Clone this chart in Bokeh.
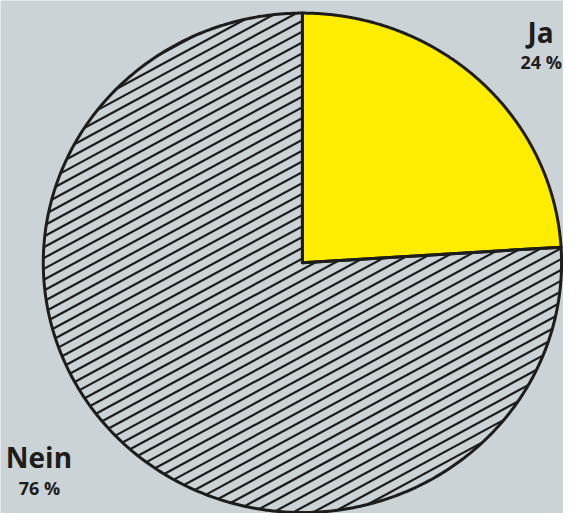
import numpy as np
from bokeh.plotting import figure
from bokeh.models import Range1d, ColumnDataSource
from bokeh.core.properties import value
from bokeh.embed import file_html
from bokeh.resources import INLINE

# ---- data ----
categories = ["Ja", "Nein"]
shares = [24, 76]
pct_labels = [f"{v} %" for v in shares]

# ---- layout / style ----
BG = "#cbd3d7"
INK = "#1d1d1b"
YELLOW = "#ffed00"
W, H = 579, 529
cx, cy = 310.5, 529 - 270.5
rx, ry = 266.5, 257.5

p = figure(width=563, height=513, output_backend="svg", toolbar_location=None,
           x_range=Range1d(0, W), y_range=Range1d(0, H), min_border=0)
p.axis.visible = False
p.grid.visible = False
p.outline_line_color = None
p.background_fill_color = BG
p.border_fill_color = BG

# slice polygons (clockwise from 12 o'clock)
total = float(sum(shares))
cum = np.cumsum([0] + shares) / total
polys_x, polys_y = [], []
for i in range(len(shares)):
    a0 = np.pi / 2 - 2 * np.pi * cum[i]
    a1 = np.pi / 2 - 2 * np.pi * cum[i + 1]
    t = np.linspace(a0, a1, 400)
    xs = np.concatenate([[cx], cx + rx * np.cos(t), [cx]])
    ys = np.concatenate([[cy], cy + ry * np.sin(t), [cy]])
    polys_x.append(xs.tolist())
    polys_y.append(ys.tolist())

# hatch lines clipped to the ellipse (drawn under the yellow slice)
theta = np.deg2rad(28.5)
spacing = 9.8
ux, uy = np.cos(theta), np.sin(theta)
nx, ny = -np.sin(theta), np.cos(theta)
x0s, y0s, x1s, y1s = [], [], [], []
for d in np.arange(-300, 300, spacing):
    px, py = d * nx, d * ny
    A = (ux / rx) ** 2 + (uy / ry) ** 2
    B = 2 * (px * ux / rx ** 2 + py * uy / ry ** 2)
    C = (px / rx) ** 2 + (py / ry) ** 2 - 1
    disc = B * B - 4 * A * C
    if disc <= 0:
        continue
    t0 = (-B - np.sqrt(disc)) / (2 * A)
    t1 = (-B + np.sqrt(disc)) / (2 * A)
    x0s.append(cx + px + t0 * ux); y0s.append(cy + py + t0 * uy)
    x1s.append(cx + px + t1 * ux); y1s.append(cy + py + t1 * uy)
p.segment(x0s, y0s, x1s, y1s, line_color=INK, line_width=2.2)

# yellow slice (Ja)
p.patch(polys_x[0], polys_y[0], fill_color=YELLOW, line_color=INK,
        line_width=3, line_join="round")
# hatched slice outline (Nein)
p.patch(polys_x[1], polys_y[1], fill_color=None, line_color=INK,
        line_width=3, line_join="round")

# labels
name_pos = [(555.5, 529 - 32), (39.5, 529 - 471)]
pct_pos = [(556, 529 - 63), (40, 529 - 503)]
src_n = ColumnDataSource(dict(x=[q[0] for q in name_pos], y=[q[1] for q in name_pos], t=categories))
src_p = ColumnDataSource(dict(x=[q[0] for q in pct_pos], y=[q[1] for q in pct_pos], t=pct_labels))
p.text("x", "y", text="t", source=src_n, text_font=value("Open Sans"),
       text_font_style="bold", text_font_size="28px", text_color=INK,
       text_align="center", text_baseline="alphabetic")
p.text("x", "y", text="t", source=src_p, text_font=value("Open Sans"),
       text_font_style="bold", text_font_size="18px", text_color=INK,
       text_align="center", text_baseline="alphabetic")

open("out.html", "w").write(file_html(p, INLINE))
